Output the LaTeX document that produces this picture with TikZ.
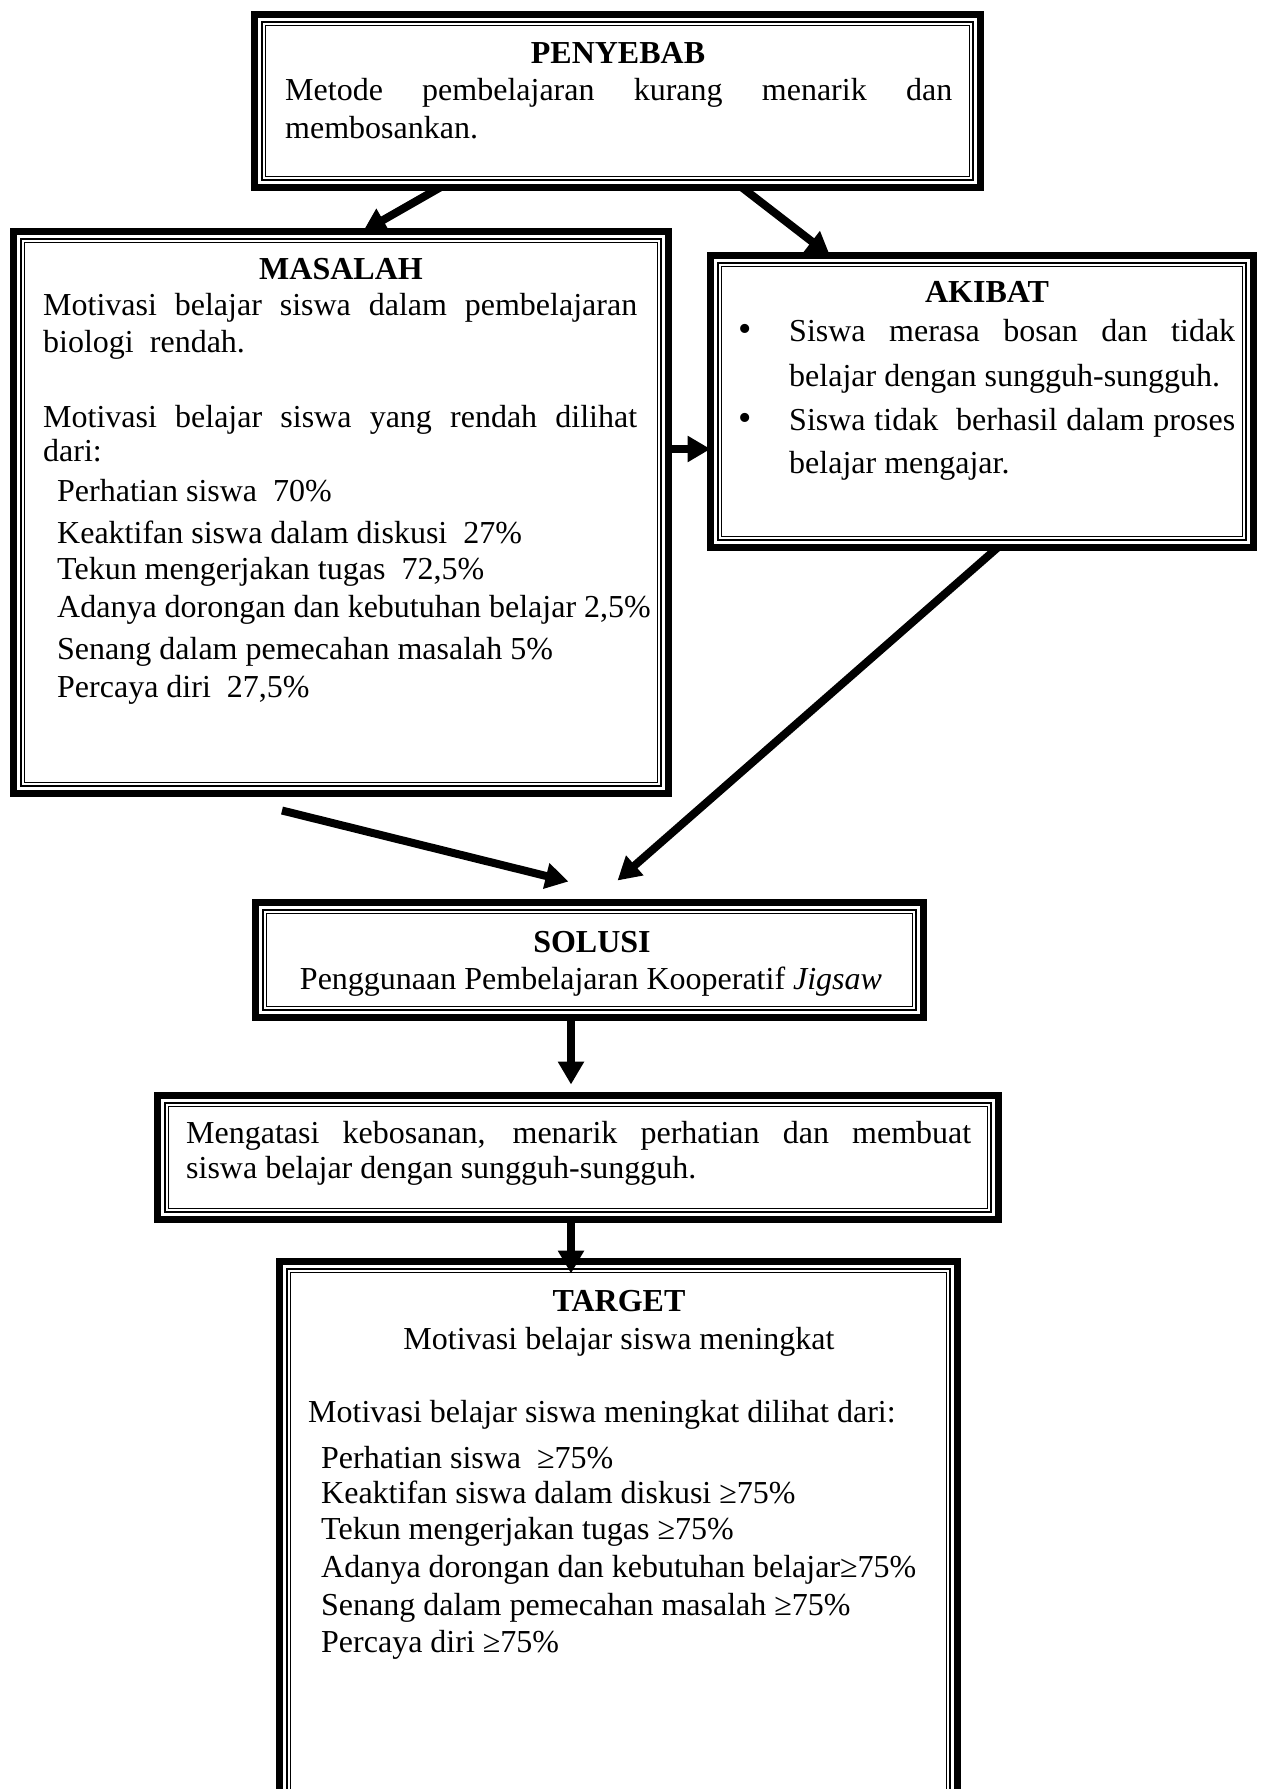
\documentclass[tikz,border=0pt]{standalone}
\usepackage{fontspec}
\setmainfont{Liberation Serif}
\usetikzlibrary{arrows.meta,calc}

% two thin rules inside a framed box (thick-thin border)
\newcommand\innerrules[1]{%
  \draw[line width=2.2pt] ([shift={(7.8,7.8)}]#1.north west) rectangle ([shift={(-7.8,-7.8)}]#1.south east);
  \draw[line width=1.2pt] ([shift={(11.3,11.3)}]#1.north west) rectangle ([shift={(-11.3,-11.3)}]#1.south east);}

\begin{document}
\begin{tikzpicture}[x=1pt,y=-1pt,
  frame/.style={draw, line width=7pt, rectangle, inner sep=0pt, outer sep=0pt},
  txt/.style={inner sep=0pt, anchor=base west, font=\fontsize{32}{38}\selectfont},
  ctxt/.style={inner sep=0pt, anchor=base, font=\fontsize{32}{38}\selectfont},
  head/.style={inner sep=0pt, anchor=base, font=\fontsize{32}{38}\selectfont\bfseries},
  bul/.style={inner sep=0pt, anchor=base, font=\fontsize{38}{38}\selectfont},
  arr/.style={line width=8pt, -{Triangle[length=23pt,width=25pt]}},
]
\useasboundingbox (0,0) rectangle (1270,1789);
\fill[white] (0,0) rectangle (1270,1789);
\clip (0,0) rectangle (1270,1789);

% ---------- boxes ----------
\node[frame, minimum width=726pt, minimum height=173pt] (pen) at (617.5,101) {};
\innerrules{pen}
\node[frame, minimum width=655pt, minimum height=562pt] (mas) at (341,512.5) {};
\innerrules{mas}
\node[frame, minimum width=543pt, minimum height=292pt] (aki) at (982,401.5) {};
\innerrules{aki}
\node[frame, minimum width=668pt, minimum height=115pt] (sol) at (589.5,960) {};
\innerrules{sol}
\node[frame, minimum width=841pt, minimum height=124pt] (men) at (578,1157.5) {};
\innerrules{men}
\node[frame, minimum width=678pt, minimum height=585pt] (tar) at (618.5,1554) {};
\innerrules{tar}

% ---------- PENYEBAB ----------
\node[head] (pen-h) at (618,63) {PENYEBAB};
\node[txt] (pen-1) at (285,100) {\makebox[667pt][s]{Metode pembelajaran kurang menarik dan}};
\node[txt] (pen-2) at (285,138) {membosankan.};

% ---------- MASALAH ----------
\node[head] (mas-h) at (341,279) {MASALAH};
\node[txt] (mas-1) at (43,315) {\makebox[594pt][s]{Motivasi belajar siswa dalam pembelajaran}};
\node[txt] (mas-2) at (43,352) {biologi\ \ rendah.};
\node[txt] (mas-3) at (43,427) {\makebox[594pt][s]{Motivasi belajar siswa yang rendah dilihat}};
\node[txt] (mas-4) at (43,461) {dari:};
\node[txt] (mas-5) at (57,501) {Perhatian siswa\ \ 70\%};
\node[txt] (mas-6) at (57,543) {Keaktifan siswa dalam diskusi\ \ 27\%};
\node[txt] (mas-7) at (57,579) {Tekun mengerjakan tugas\ \ 72,5\%};
\node[txt] (mas-8) at (57,617) {Adanya dorongan dan kebutuhan belajar 2,5\%};
\node[txt] (mas-9) at (57,659) {Senang dalam pemecahan masalah 5\%};
\node[txt] (mas-10) at (57,697) {Percaya diri\ \ 27,5\%};

% ---------- AKIBAT ----------
\node[head] (aki-h) at (987,302) {AKIBAT};
\node[bul] (aki-b1) at (745,341) {\textbullet};
\node[txt] (aki-1) at (789,341) {\makebox[446pt][s]{Siswa merasa bosan dan tidak}};
\node[txt] (aki-2) at (789,386) {belajar dengan sungguh-sungguh.};
\node[bul] (aki-b2) at (745,430) {\textbullet};
\node[txt] (aki-3) at (789,430) {\makebox[446pt][s]{Siswa tidak\ \ berhasil dalam proses}};
\node[txt] (aki-4) at (789,473) {belajar mengajar.};

% ---------- SOLUSI ----------
\node[head] (sol-h) at (592,952) {SOLUSI};
\node[ctxt] (sol-1) at (591,989) {Penggunaan Pembelajaran Kooperatif \textit{Jigsaw}};

% ---------- outcome ----------
\node[txt] (men-1) at (186,1143) {\makebox[785pt][s]{Mengatasi kebosanan, menarik perhatian dan membuat}};
\node[txt] (men-2) at (186,1178) {siswa belajar dengan sungguh-sungguh.};

% ---------- TARGET ----------
\node[head] (tar-h) at (619,1311) {TARGET};
\node[ctxt] (tar-1) at (619,1349) {Motivasi belajar siswa meningkat};
\node[txt] (tar-2) at (308,1422) {Motivasi belajar siswa meningkat dilihat dari:};
\node[txt] (tar-3) at (321,1468) {Perhatian siswa\ \ ≥75\%};
\node[txt] (tar-4) at (321,1503) {Keaktifan siswa dalam diskusi ≥75\%};
\node[txt] (tar-5) at (321,1539) {Tekun mengerjakan tugas ≥75\%};
\node[txt] (tar-6) at (321,1577) {Adanya dorongan dan kebutuhan belajar≥75\%};
\node[txt] (tar-7) at (321,1615) {Senang dalam pemecahan masalah ≥75\%};
\node[txt] (tar-8) at (321,1652) {Percaya diri ≥75\%};

% ---------- connectors ----------
\draw[arr] ($(pen.south west)!0.2555!(pen.south east)$) -- ($(mas.north west)!0.5336!(mas.north east)$);
\draw[arr] ($(pen.south west)!0.6715!(pen.south east)$) -- ($(aki.north west)!0.22!(aki.north east)$);
\coordinate (m3) at ($(mas.north east)!0.387!(mas.south east)$);
\draw[arr] (m3) -- (m3 -| aki.west);
\coordinate (m4) at ($(mas.south)+(-59,17)$);
\coordinate (s4) at ($(sol.north)+(-21,-21)$);
\draw[arr] (m4) -- (s4);
\coordinate (a5) at ($(aki.south west)!0.529!(aki.south east)$);
\coordinate (s5) at ($(sol.north)+(28,-22)$);
\draw[arr] (a5) -- (s5);
\coordinate (s6) at ($(sol.south west)!0.4723!(sol.south east)$);
\draw[arr] (s6) -- ($(s6 |- men.north)+(0,-11)$);
\coordinate (s7) at (s6 |- men.south);
\draw[arr] (s7) -- ($(s7 |- tar.north)+(0,12)$);
\end{tikzpicture}
\end{document}
